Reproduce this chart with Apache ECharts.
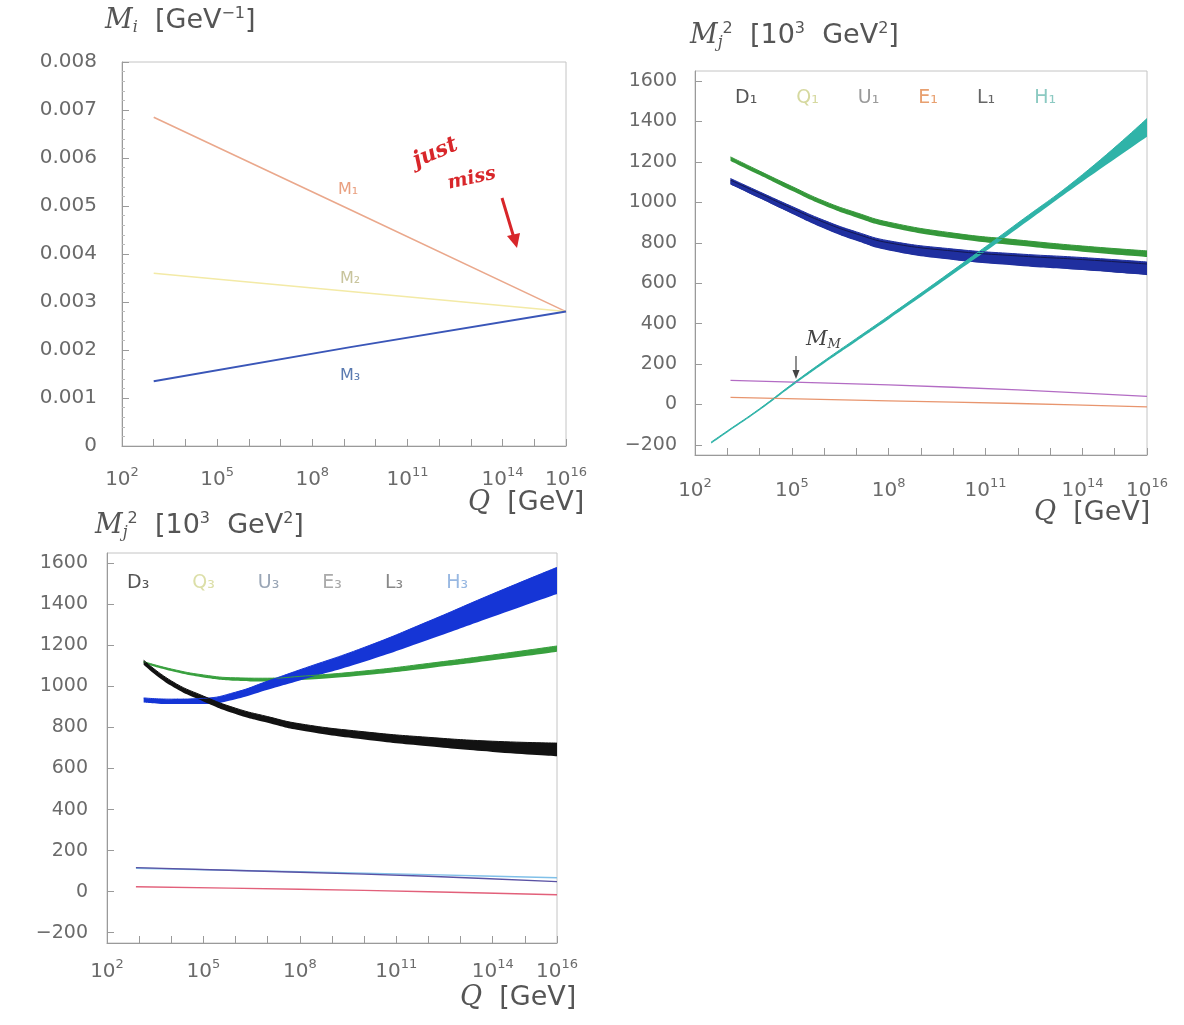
<!DOCTYPE html>
<html>
<head>
<meta charset="utf-8">
<script src="https://cdn.jsdelivr.net/npm/echarts@6/dist/echarts.min.js"></script>
<style>html,body{margin:0;padding:0;background:#fff}#c{width:1184px;height:1025px}</style>
</head>
<body>
<div id="c"></div>
<script>
// x values are log10(Q / GeV)
const xLabelExps = [2, 5, 8, 11, 14, 16];
const xTickExps = [2, 3, 4, 5, 6, 7, 8, 9, 10, 11, 12, 13, 14, 15, 16];
const massTicks = [-200, 0, 200, 400, 600, 800, 1000, 1200, 1400, 1600];

// Panel 1: gaugino masses M_i [GeV^-1]
const p1Q = [3.0, 9.2, 16];
const M1 = [0.00685, 0.00492, 0.0028];
const M2 = [0.0036, 0.00322, 0.0028];
const M3 = [0.00135, 0.00206, 0.0028];

// Panel 2: first generation, M_j^2 [10^3 GeV^2]
const p2Q = [3.1, 4, 5, 6, 7, 8, 10, 12, 14, 16];
const Q1lo = [1205, 1135, 1057, 984, 925, 878, 822, 786, 756, 730];
const Q1hi = [1225, 1155, 1079, 1006, 949, 902, 848, 814, 784, 760];
const U1lo = [1088, 1020, 944, 871, 810, 762, 715, 687, 665, 640];
const U1hi = [1118, 1052, 980, 911, 854, 810, 769, 745, 727, 705];
const D1lo = [1090, 1022, 946, 873, 812, 764, 717, 689, 667, 642];
const D1hi = [1110, 1044, 970, 901, 844, 800, 759, 735, 717, 695];
const h1Q = [2.5, 3, 4, 5, 6, 7, 8, 10, 12, 14, 16];
const H1lo = [-194, -139, -29, 90, 204, 313, 422, 645, 872, 1103, 1325];
const H1hi = [-186, -131, -21, 100, 216, 327, 438, 665, 898, 1137, 1415];
const thin2Q = [3.1, 8, 12, 16];
const E1 = [35, 18, 5, -12];
const L1 = [119, 97, 72, 40];

// Panel 3: third generation
const p3Q = [3.14, 4, 5, 6, 7, 8, 10, 12, 14, 16];
const D3lo = [1106, 1003, 927, 866, 823, 786, 741, 708, 681, 660];
const D3hi = [1128, 1027, 953, 894, 853, 818, 779, 752, 733, 724];
const H3lo = [922, 914, 914, 938, 984, 1029, 1120, 1227, 1339, 1450];
const H3hi = [944, 938, 942, 972, 1026, 1081, 1190, 1317, 1451, 1580];
const Q3lo = [1113, 1075, 1044, 1028, 1024, 1031, 1055, 1089, 1127, 1169];
const Q3hi = [1121, 1085, 1056, 1042, 1040, 1049, 1075, 1112, 1153, 1197];
const thin3Q = [2.9, 8, 12, 16];
const E3 = [24, 12, 0, -15];
const L3 = [117, 95, 75, 49];
const U3 = [114, 97, 83, 68];

const zip = (xs, ys) => xs.map((x, i) => [x, ys[i]]);
// value first so that stacking acts on the y dimension
const zipYX = (xs, ys) => xs.map((x, i) => [ys[i], x]);
const LBL = '#6a6a6a', AX = '#9a9a9a', TTL = '#555';

function thin(name, xs, ys, color, width, gi, smooth) {
  return { type: 'line', name, xAxisIndex: gi, yAxisIndex: gi, data: zip(xs, ys),
    symbol: 'none', smooth, lineStyle: { color, width } };
}
function band(name, xs, lo, hi, color, gi) {
  return [
    { type: 'line', name: name + ' lower', xAxisIndex: gi, yAxisIndex: gi, data: zipYX(xs, lo),
      encode: { x: 1, y: 0 },
      stack: 'b_' + name, stackStrategy: 'all', symbol: 'none', smooth: 0.5, silent: true,
      lineStyle: { width: 0, opacity: 0 } },
    { type: 'line', name, xAxisIndex: gi, yAxisIndex: gi, data: zipYX(xs, hi.map((h, i) => h - lo[i])),
      encode: { x: 1, y: 0 },
      stack: 'b_' + name, stackStrategy: 'all', symbol: 'none', smooth: 0.5,
      lineStyle: { color, width: 1 }, areaStyle: { color, opacity: 1 } }
  ];
}

function xAxis(gi, margin) {
  return { type: 'value', gridIndex: gi, min: 2, max: 16,
    axisLine: { show: true, onZero: false, lineStyle: { color: AX } },
    axisTick: { show: true, inside: true, length: 7, customValues: xTickExps, lineStyle: { color: AX } },
    splitLine: { show: false },
    axisLabel: { customValues: xLabelExps, margin,
      formatter: v => '{b|10}{s|' + v + '}',
      rich: { b: { fontSize: 20, color: LBL, fontFamily: 'DejaVu Sans' },
              s: { fontSize: 13, color: LBL, fontFamily: 'DejaVu Sans', padding: [0, 0, 15, 0] } } } };
}
function massAxis(gi, margin) {
  return { type: 'value', gridIndex: gi, min: -250, max: 1650,
    axisLine: { show: true, onZero: false, lineStyle: { color: AX } },
    axisTick: { show: true, inside: true, length: 7, customValues: massTicks, lineStyle: { color: AX } },
    splitLine: { show: false },
    axisLabel: { customValues: massTicks, margin, fontSize: 19, color: LBL, fontFamily: 'DejaVu Sans',
      formatter: v => (v < 0 ? '\u2212' + (-v) : '' + v) } };
}

const rich = {
  m: { fontFamily: 'DejaVu Serif', fontStyle: 'italic', fontWeight: 'normal', fontSize: 27, color: TTL },
  sub: { fontFamily: 'DejaVu Serif', fontStyle: 'italic', fontWeight: 'normal', fontSize: 16, color: TTL, padding: [14, 0, 0, 0] },
  sup: { fontFamily: 'DejaVu Sans', fontWeight: 'normal', fontSize: 16, color: TTL, padding: [0, 0, 14, 0] },
  t: { fontFamily: 'DejaVu Sans', fontWeight: 'normal', fontSize: 27, color: TTL },
  q: { fontFamily: 'DejaVu Serif', fontStyle: 'italic', fontWeight: 'normal', fontSize: 27, color: TTL },
  g: { fontFamily: 'DejaVu Sans', fontWeight: 'normal', fontSize: 27, color: TTL }
};
function ttl(text, left, top) {
  return { text, left, top, padding: 0, textStyle: { rich, fontSize: 27, fontWeight: 'normal', color: TTL } };
}

const legendTxt = { fontSize: 19, fontFamily: 'DejaVu Sans' };

const option = {
  animation: false,
  backgroundColor: '#fff',
  title: [
    ttl('{m|M}{sub|i}{t|  [GeV}{sup|\u22121}{t|]}', 105, 6),
    ttl('{m|M}{sub|j}{sup|2}{t|  [10}{sup|3}{t|  GeV}{sup|2}{t|]}', 690, 21),
    ttl('{m|M}{sub|j}{sup|2}{t|  [10}{sup|3}{t|  GeV}{sup|2}{t|]}', 95, 511),
    ttl('{q|Q}{g|  [GeV]}', 468, 489),
    ttl('{q|Q}{g|  [GeV]}', 1034, 499),
    ttl('{q|Q}{g|  [GeV]}', 460, 984)
  ],
  legend: [
    { left: 730, top: 89, padding: 0, icon: 'none', itemWidth: 0, itemGap: 34, textStyle: legendTxt,
      selectedMode: false,
      data: [
        { name: 'D\u2081', textStyle: { color: '#555' } },
        { name: 'Q\u2081', textStyle: { color: '#d6d9a0' } },
        { name: 'U\u2081', textStyle: { color: '#9a9a9a' } },
        { name: 'E\u2081', textStyle: { color: '#e8a070' } },
        { name: 'L\u2081', textStyle: { color: '#666' } },
        { name: 'H\u2081', textStyle: { color: '#8ccac2' } }
      ] },
    { left: 122, top: 574, padding: 0, icon: 'none', itemWidth: 0, itemGap: 38, textStyle: legendTxt,
      selectedMode: false,
      data: [
        { name: 'D\u2083', textStyle: { color: '#555' } },
        { name: 'Q\u2083', textStyle: { color: '#dcdfa8' } },
        { name: 'U\u2083', textStyle: { color: '#9aa6b6' } },
        { name: 'E\u2083', textStyle: { color: '#aaa' } },
        { name: 'L\u2083', textStyle: { color: '#888' } },
        { name: 'H\u2083', textStyle: { color: '#98b8e2' } }
      ] }
  ],
  grid: [
    { left: 122, top: 62, width: 444, height: 384, show: true, borderColor: '#c4c4c4', borderWidth: 1 },
    { left: 695, top: 71, width: 452, height: 384, show: true, borderColor: '#c4c4c4', borderWidth: 1 },
    { left: 107, top: 553, width: 450, height: 390, show: true, borderColor: '#c4c4c4', borderWidth: 1 }
  ],
  xAxis: [xAxis(0, 20), xAxis(1, 22), xAxis(2, 15)],
  yAxis: [
    { type: 'value', gridIndex: 0, min: 0, max: 0.008, interval: 0.001,
      axisLine: { show: true, onZero: false, lineStyle: { color: AX } },
      axisTick: { show: true, inside: true, length: 7, lineStyle: { color: AX } },
      minorTick: { show: true, splitNumber: 5, length: 3, lineStyle: { color: '#bbb' } },
      splitLine: { show: false },
      axisLabel: { margin: 25, fontSize: 20, color: LBL, fontFamily: 'DejaVu Sans',
        formatter: v => (v === 0 ? '0' : v.toFixed(3)) } },
    massAxis(1, 18),
    massAxis(2, 19)
  ],
  series: [
    thin('M\u2081', p1Q, M1, '#eaa88c', 1.6, 0, false),
    thin('M\u2082', p1Q, M2, '#f3eaa6', 1.5, 0, false),
    thin('M\u2083', p1Q, M3, '#3a56b8', 2, 0, false),

    ...band('D\u2081', p2Q, D1lo, D1hi, '#141850', 1),
    ...band('U\u2081', p2Q, U1lo, U1hi, '#1f2f9f', 1),
    ...band('Q\u2081', p2Q, Q1lo, Q1hi, '#35983a', 1),
    thin('E\u2081', thin2Q, E1, '#e8956e', 1.4, 1, 0.3),
    thin('L\u2081', thin2Q, L1, '#b36cc4', 1.4, 1, 0.3),
    ...band('H\u2081', h1Q, H1lo, H1hi, '#2fb3a8', 1),

    ...band('Q\u2083', p3Q, Q3lo, Q3hi, '#38a03e', 2),
    ...band('H\u2083', p3Q, H3lo, H3hi, '#1535d6', 2),
    ...band('D\u2083', p3Q, D3lo, D3hi, '#121212', 2),
    thin('E\u2083', thin3Q, E3, '#e2607a', 1.4, 2, 0.3),
    thin('U\u2083', thin3Q, U3, '#80c0e8', 1.4, 2, 0.3),
    thin('L\u2083', thin3Q, L3, '#5a52a4', 1.4, 2, 0.3)
  ],
  graphic: [
    { type: 'text', x: 338, y: 182, style: { text: 'M\u2081', fill: '#e9a080', font: '16px "DejaVu Sans"' } },
    { type: 'text', x: 340, y: 271, style: { text: 'M\u2082', fill: '#c8c49c', font: '16px "DejaVu Sans"' } },
    { type: 'text', x: 340, y: 368, style: { text: 'M\u2083', fill: '#5a7ab0', font: '16px "DejaVu Sans"' } },
    { type: 'text', x: 414, y: 162, rotation: 0.4,
      style: { text: 'just', fill: '#d8262a', font: 'italic bold 22px "DejaVu Serif"', verticalAlign: 'middle' } },
    { type: 'text', x: 448, y: 184, rotation: 0.22,
      style: { text: 'miss', fill: '#d8262a', font: 'italic bold 19px "DejaVu Serif"', verticalAlign: 'middle' } },
    { type: 'polyline', shape: { points: [[502, 198], [508, 218], [514, 238]] },
      style: { stroke: '#d8262a', lineWidth: 3, fill: null } },
    { type: 'polygon', shape: { points: [[517, 248], [520, 233], [507, 236]] }, style: { fill: '#d8262a' } },
    { type: 'text', x: 806, y: 340,
      style: { text: '{a|M}{b|M}', verticalAlign: 'middle',
        rich: { a: { fontFamily: 'DejaVu Serif', fontStyle: 'italic', fontSize: 21, fill: '#444' },
                b: { fontFamily: 'DejaVu Serif', fontStyle: 'italic', fontSize: 13, fill: '#444', padding: [10, 0, 0, 0] } } } },
    { type: 'line', shape: { x1: 796, y1: 356, x2: 796, y2: 372 }, style: { stroke: '#444', lineWidth: 1.2 } },
    { type: 'polygon', shape: { points: [[792.5, 370], [799.5, 370], [796, 379]] }, style: { fill: '#444' } }
  ]
};

const chart = echarts.init(document.getElementById('c'), null, { renderer: 'canvas' });
chart.setOption(option);
</script>
</body>
</html>
